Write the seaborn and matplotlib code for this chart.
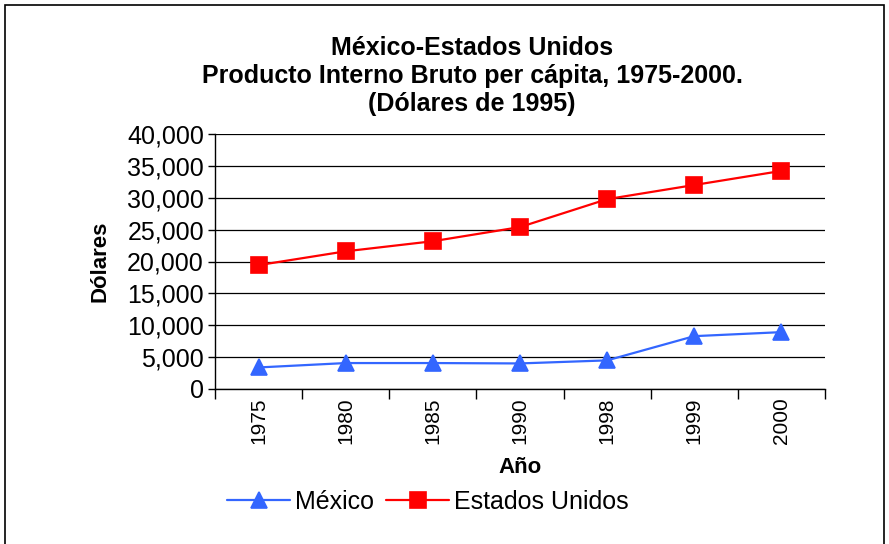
import numpy as np
import pandas as pd
import matplotlib
matplotlib.use("Agg")
import matplotlib.pyplot as plt
import matplotlib.ticker as mticker
from matplotlib.patches import Rectangle
import seaborn as sns

# data
years = ["1975", "1980", "1985", "1990", "1998", "1999", "2000"]
mexico = [3380, 4070, 4070, 4010, 4490, 8290, 8920]
usa = [19430, 21600, 23180, 25400, 29780, 32000, 34210]
series_names = ["México", "Estados Unidos"]

df = pd.DataFrame({
    "Año": years * 2,
    "Dólares": mexico + usa,
    "pais": [series_names[0]] * len(years) + [series_names[1]] * len(years),
})

sns.set_style("white")
plt.rcParams["font.family"] = ["Liberation Sans", "DejaVu Sans"]
plt.rcParams.update({"text.color": "black", "axes.labelcolor": "black",
                     "xtick.color": "black", "ytick.color": "black"})

fig = plt.figure(figsize=(8.89, 5.44), dpi=100)
ax = fig.add_axes([215 / 889, 1 - 389 / 544, 610 / 889, 255 / 544])

sns.pointplot(data=df, x="Año", y="Dólares", hue="pais", order=years,
              hue_order=series_names, palette=["#3366FF", "#FF0000"],
              markers=["^", "s"], linestyles=["-", "-"], ax=ax,
              markersize=11, linewidth=1.6, errorbar=None)

ax.set_ylim(0, 40000)
ax.set_xlim(-0.5, len(years) - 0.5)
ax.yaxis.set_major_locator(mticker.MultipleLocator(5000))
ax.yaxis.set_major_formatter(mticker.FuncFormatter(lambda v, p: f"{int(v):,}"))
ax.grid(axis="y", color="black", linewidth=0.9)
ax.set_axisbelow(True)

# tick marks between categories, labels at the centres
ax.set_xticks(np.arange(len(years)))
ax.set_xticklabels(years, rotation=90, fontsize=15)
ax.set_xticks(np.arange(len(years) + 1) - 0.5, minor=True)
ax.tick_params(axis="x", which="major", length=0, pad=6)
ax.tick_params(axis="x", which="minor", length=7, width=1, color="black",
               direction="out", bottom=True)
ax.tick_params(axis="y", length=5, width=1, color="black", direction="out",
               left=True, labelsize=18, pad=3)

for s in ["top", "right"]:
    ax.spines[s].set_visible(False)
for s in ["left", "bottom"]:
    ax.spines[s].set_color("black")
    ax.spines[s].set_linewidth(1)

ax.set_xlabel("Año", fontsize=16, fontweight="bold", labelpad=9)
ax.set_ylabel("Dólares", fontsize=16, fontweight="bold", labelpad=12)

fig.text(472 / 889, 1 - 76 / 544,
         "México-Estados Unidos\nProducto Interno Bruto per cápita, 1975-2000.\n(Dólares de 1995)",
         ha="center", va="center", fontsize=18, fontweight="bold", linespacing=1.22)

ax.legend(loc="center", bbox_to_anchor=(428 / 889, 1 - 502 / 544),
          bbox_transform=fig.transFigure, ncol=2, frameon=False, fontsize=18,
          handlelength=2.5, columnspacing=0.5, handletextpad=0.2)

fig.patches.append(Rectangle((5 / 889, -0.02), 879 / 889, 1.02 - 5 / 544,
                             transform=fig.transFigure, fill=False,
                             edgecolor="black", linewidth=1.2))

fig.savefig("out.png", dpi=100)
